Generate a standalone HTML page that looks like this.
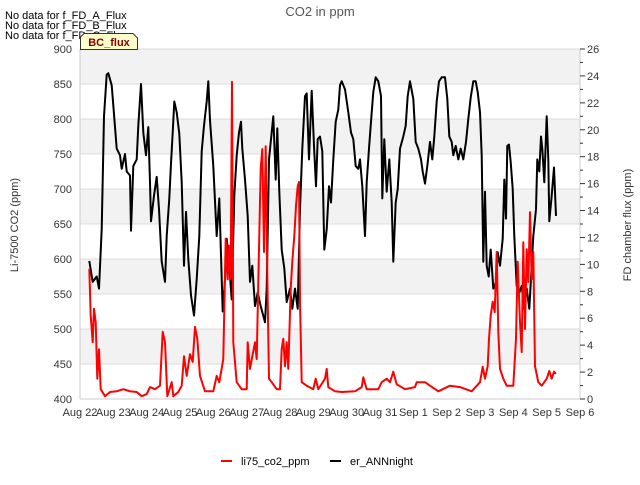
<!DOCTYPE html>
<html><head><meta charset="utf-8"><style>
body{margin:0;background:#fff;}
svg text{font-family:"Liberation Sans","DejaVu Sans",sans-serif;}
</style></head><body>
<svg id="chart" width="640" height="480" xmlns="http://www.w3.org/2000/svg">
<g id="bands"></g>
<g id="grid"></g>
<g id="series"></g>
<g id="axes"></g>
<text x="320" y="16" text-anchor="middle" font-size="13" fill="#555">CO2 in ppm</text>
<text x="5" y="19" font-size="11" fill="#000">No data for f_FD_A_Flux</text>
<text x="5" y="29" font-size="11" fill="#000">No data for f_FD_B_Flux</text>
<text x="5" y="39" font-size="11" fill="#000">No data for f_FD_C_Flux</text>
<g>
<path d="M80.5,49.5 L80.5,37 L84,33.5 L133,33.5 L137.5,38 L137.5,49.5 Z" fill="#ffffcc" stroke="#333" stroke-width="1"/>
<text x="109" y="46" text-anchor="middle" font-size="11" font-weight="bold" fill="#8b0000">BC_flux</text>
</g>
<text transform="translate(18,225) rotate(-90)" text-anchor="middle" font-size="11" fill="#333">Li-7500 CO2 (ppm)</text>
<text transform="translate(631,225) rotate(-90)" text-anchor="middle" font-size="11" fill="#333">FD chamber flux (ppm)</text>
<g>
<g><line x1="221" y1="461" x2="232" y2="461" stroke="#f00" stroke-width="2"/><text x="241" y="465" font-size="11" fill="#000">li75_co2_ppm</text></g>
<g><line x1="330" y1="461" x2="341" y2="461" stroke="#000" stroke-width="2"/><text x="350" y="465" font-size="11" fill="#000">er_ANNnight</text></g>
</g>
</svg>
<script>
const xTickLabels=["Aug 22","Aug 23","Aug 24","Aug 25","Aug 26","Aug 27","Aug 28","Aug 29","Aug 30","Aug 31","Sep 1","Sep 2","Sep 3","Sep 4","Sep 5","Sep 6"];
const leftTicks=[400,450,500,550,600,650,700,750,800,850,900];
const rightTicks=[0,2,4,6,8,10,12,14,16,18,20,22,24,26];
const redDays=[0.28,0.32,0.38,0.42,0.47,0.52,0.57,0.62,0.75,0.90,1.10,1.30,1.50,1.70,1.85,2.00,2.10,2.25,2.40,2.48,2.55,2.62,2.75,2.80,2.95,3.05,3.12,3.20,3.30,3.38,3.45,3.52,3.60,3.75,4.00,4.10,4.18,4.30,4.37,4.43,4.47,4.52,4.56,4.60,4.70,4.85,5.00,5.03,5.10,5.17,5.25,5.30,5.35,5.42,5.47,5.52,5.57,5.62,5.67,5.75,5.90,6.00,6.05,6.10,6.15,6.20,6.25,6.32,6.37,6.43,6.48,6.53,6.57,6.60,6.65,6.80,7.00,7.07,7.15,7.35,7.40,7.45,7.65,7.85,8.25,8.45,8.50,8.60,8.95,9.05,9.20,9.30,9.40,9.50,9.75,10.05,10.10,10.35,10.50,10.75,11.10,11.40,11.75,12.00,12.08,12.15,12.23,12.27,12.32,12.38,12.44,12.50,12.55,12.60,12.70,12.80,13.00,13.08,13.13,13.20,13.25,13.30,13.35,13.40,13.45,13.50,13.55,13.60,13.65,13.75,13.85,14.00,14.08,14.15,14.22,14.28];
const redPpm=[586,519,481,529,510,429,471,414,404,410,411,414,411,410,404,407,417,414,419,496,481,404,424,404,410,419,461,433,464,453,503,486,433,411,411,433,424,457,629,571,619,571,853,481,424,414,414,481,443,461,481,457,567,729,757,610,761,576,429,424,414,414,471,486,447,481,443,557,596,633,676,704,710,539,424,419,414,429,414,429,443,417,411,410,411,417,431,414,414,424,429,424,439,421,414,417,424,424,419,411,419,417,411,424,446,429,447,486,519,539,524,610,496,443,429,419,419,486,596,510,467,624,500,614,567,667,571,610,447,424,419,429,440,429,439,436];
const blackDays=[0.28,0.38,0.50,0.57,0.65,0.72,0.80,0.85,0.95,0.99,1.10,1.20,1.25,1.35,1.40,1.50,1.53,1.60,1.70,1.75,1.83,1.90,1.98,2.05,2.10,2.13,2.22,2.30,2.37,2.45,2.55,2.60,2.68,2.73,2.78,2.83,2.90,2.98,3.05,3.12,3.18,3.25,3.33,3.42,3.50,3.58,3.65,3.72,3.80,3.85,3.90,4.00,4.10,4.18,4.28,4.35,4.40,4.47,4.55,4.63,4.70,4.77,4.83,4.87,4.95,5.03,5.10,5.17,5.25,5.33,5.42,5.55,5.60,5.67,5.80,5.87,5.92,5.98,6.05,6.13,6.20,6.30,6.37,6.45,6.53,6.60,6.67,6.75,6.80,6.87,6.95,7.02,7.08,7.13,7.20,7.27,7.33,7.40,7.47,7.53,7.60,7.67,7.75,7.80,7.85,7.95,8.05,8.13,8.20,8.27,8.35,8.40,8.47,8.55,8.60,8.67,8.73,8.80,8.87,8.95,9.03,9.07,9.13,9.20,9.28,9.35,9.40,9.47,9.53,9.60,9.70,9.77,9.83,9.90,10.00,10.07,10.15,10.23,10.28,10.35,10.42,10.50,10.57,10.63,10.70,10.77,10.85,10.95,11.02,11.08,11.15,11.20,11.27,11.35,11.42,11.50,11.58,11.65,11.72,11.80,11.87,11.93,12.00,12.05,12.10,12.15,12.20,12.26,12.32,12.40,12.48,12.53,12.60,12.68,12.73,12.78,12.82,12.87,12.92,12.98,13.03,13.10,13.18,13.25,13.32,13.40,13.48,13.55,13.60,13.68,13.72,13.78,13.83,13.87,13.93,14.00,14.05,14.08,14.15,14.22,14.28];
const blackFlux=[10.25,8.7,9.1,8.2,12.6,21.0,24.1,24.2,23.3,22.1,18.6,18.1,17.1,18.2,16.9,16.6,12.5,17.3,17.8,20.3,23.4,19.8,18.1,20.2,16.1,13.2,15.1,16.5,14.1,10.2,8.7,12.1,14.9,17.5,19.8,22.1,21.3,19.7,16.1,9.9,13.9,10.4,7.7,6.2,8.9,12.1,18.4,20.3,22.1,23.6,20.7,17.3,12.1,14.9,6.5,8.9,11.9,10.2,7.4,15.1,18.1,19.8,20.6,18.6,16.3,13.6,8.7,9.9,6.9,7.9,6.9,5.7,8.2,17.8,21.0,16.3,20.1,15.4,11.1,9.7,7.2,8.2,6.7,8.2,6.7,14.1,18.6,22.5,22.7,17.8,22.9,18.8,15.8,19.3,19.5,18.4,11.1,12.6,15.8,14.6,17.8,20.6,21.5,23.3,23.6,23.0,21.3,19.8,19.3,17.3,17.1,17.8,15.8,12.1,16.1,18.6,20.6,22.8,23.9,23.6,22.5,14.9,19.3,15.4,17.8,14.6,10.2,14.6,15.6,18.6,19.5,20.3,22.5,23.6,22.3,19.1,18.6,17.8,16.9,16.0,17.3,19.1,17.8,19.5,22.1,23.6,23.9,23.9,22.3,19.5,19.1,18.1,18.8,17.8,18.6,17.8,19.1,20.8,22.4,23.6,23.6,22.8,21.3,18.1,10.2,15.4,9.9,9.1,11.1,8.2,8.7,10.9,9.9,11.9,16.3,13.4,18.8,18.9,17.6,15.6,12.1,8.4,7.9,8.4,6.7,8.2,6.7,9.9,12.1,14.1,17.8,16.9,19.5,18.6,16.1,21.0,17.8,13.2,15.1,17.2,13.6];

const X0=80,X1=580,Y0=49,Y1=399;
const xs=d=>X0+d*(X1-X0)/15;
const yl=v=>Y1-(v-400)*(Y1-Y0)/500;
const yr=v=>Y1-v*(Y1-Y0)/26;
const NS="http://www.w3.org/2000/svg";
function mk(tag,parent,attrs){const e=document.createElementNS(NS,tag);for(const k in attrs)e.setAttribute(k,attrs[k]);parent.appendChild(e);return e;}
const bands=document.getElementById('bands'),grid=document.getElementById('grid'),axes=document.getElementById('axes'),series=document.getElementById('series');
mk('rect',bands,{x:X0,y:Y0,width:X1-X0,height:Y1-Y0,fill:'#fff'});
for(let i=0;i<leftTicks.length-1;i++){
  if(i%2===1){const r=mk('rect',bands,{x:X0,y:yl(leftTicks[i+1]),width:X1-X0,height:yl(leftTicks[i])-yl(leftTicks[i+1]),fill:'#f2f2f2'});
  
  }
}
leftTicks.forEach(v=>{
  const l=mk('line',grid,{x1:X0,x2:X1,y1:yl(v),y2:yl(v),stroke:'#dcdcdc','stroke-width':1});
  
  
  const t=mk('text',axes,{x:72,y:yl(v)+4,'text-anchor':'end','font-size':11,fill:'#333'});t.textContent=v;
  
  
});
mk('line',axes,{x1:X0,x2:X0,y1:Y0,y2:Y1,stroke:'#ccc'});
mk('line',axes,{x1:X0,x2:X1,y1:Y1,y2:Y1,stroke:'#ccc'});
mk('line',axes,{x1:X1,x2:X1,y1:Y0,y2:Y1,stroke:'#ccc'});
for(let v=0;v<=26;v++){
  const tk=mk('line',axes,{x1:X1,x2:X1+(v%2===0?5:3),y1:yr(v),y2:yr(v),stroke:'#333'});
  
  
}
rightTicks.forEach(v=>{
  const t=mk('text',axes,{x:587,y:yr(v)+4,'font-size':11,fill:'#333'});t.textContent=v;
  
  
});
xTickLabels.forEach((s,i)=>{
  const t=mk('text',axes,{x:xs(i),y:416,'text-anchor':'middle','font-size':11,fill:'#333'});t.textContent=s;
  
  
});
const bp=blackDays.map((d,i)=>xs(d).toFixed(1)+','+yr(blackFlux[i]).toFixed(1)).join(' ');
const bl=mk('polyline',series,{points:bp,fill:'none',stroke:'#000','stroke-width':2,'stroke-linejoin':'round'});


const rp=redDays.map((d,i)=>xs(d).toFixed(1)+','+yl(redPpm[i]).toFixed(1)).join(' ');
const rl=mk('polyline',series,{points:rp,fill:'none',stroke:'#f00','stroke-width':2,'stroke-linejoin':'round'});


</script>
</body></html>
